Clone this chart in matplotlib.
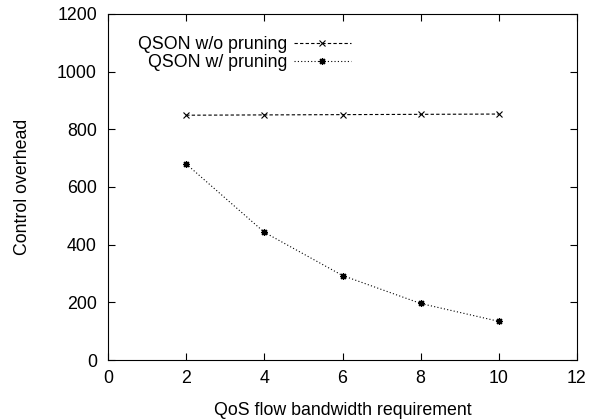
import matplotlib
matplotlib.use("Agg")
import matplotlib.pyplot as plt

plt.rcParams['font.family'] = ['Liberation Sans', 'DejaVu Sans']

bandwidth = [2, 4, 6, 8, 10]
wo_pruning = [849, 850, 851, 852, 853]
w_pruning = [680, 443, 293, 196, 134]
labels = ["QSON w/o pruning", "QSON w/ pruning"]

FS = 12.8

fig = plt.figure(figsize=(5.91, 4.19), dpi=100)
ax = fig.add_axes([108/591, 1-360/419, (577-108)/591, (360-14)/419])

ax.plot(bandwidth, wo_pruning, color='black', lw=0.8, linestyle=(0, (3, 2)),
        marker='x', markersize=4.5, markeredgewidth=0.8, label=labels[0])
ax.plot(bandwidth, w_pruning, color='black', lw=0.8, linestyle=(0, (1, 2)),
        marker=(8, 2, 0), markersize=5, markeredgewidth=0.9, label=labels[1])

ax.set_xlim(0, 12)
ax.set_ylim(0, 1200)
ax.set_xticks(range(0, 13, 2))
ax.set_yticks(range(0, 1201, 200))
ax.tick_params(direction='in', top=True, right=True, length=5, width=0.8,
               labelsize=FS)
ax.tick_params(axis='x', pad=7)
ax.tick_params(axis='y', pad=8)
for s in ax.spines.values():
    s.set_linewidth(0.8)

ax.set_xlabel("QoS flow bandwidth requirement", fontsize=FS, labelpad=11)
ax.set_ylabel("Control overhead", fontsize=FS, labelpad=19)

leg = ax.legend(loc='upper right', bbox_to_anchor=(0.518, 0.936), frameon=False,
                markerfirst=False, fontsize=FS, handlelength=3.2,
                labelspacing=0.05, handletextpad=0.4, borderaxespad=0,
                borderpad=0)
leg._legend_box._children[-1]._children[0].align = "right"

fig.savefig("out.png", dpi=100)
